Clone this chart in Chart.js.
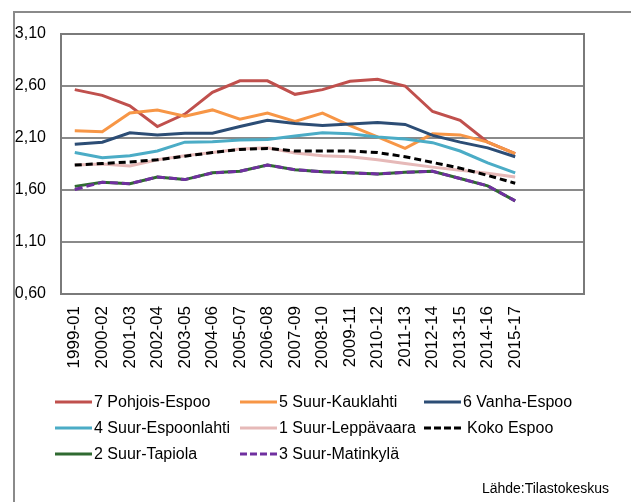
<!DOCTYPE html>
<html>
<head>
<meta charset="utf-8">
<script src="https://cdn.jsdelivr.net/npm/chart.js@4"></script>
<style>
  html, body { margin: 0; padding: 0; background: #fff; }
  #wrap { position: relative; width: 631px; height: 502px; }
  #source {
    position: absolute; right: 22px; top: 480px;
    font: 14px "Liberation Sans", Arial, sans-serif; color: #000;
  }
</style>
</head>
<body>
<div id="wrap">
  <canvas id="chart"></canvas>
  <div id="source">Lähde:Tilastokeskus</div>
</div>
<script>
// Periods on the x axis (two empty slots at the end, as in the original)
const periods = ['1999-01', '2000-02', '2001-03', '2002-04', '2003-05', '2004-06',
  '2005-07', '2006-08', '2007-09', '2008-10', '2009-11', '2010-12', '2011-13',
  '2012-14', '2013-15', '2014-16', '2015-17', '', ''];

// Y axis ticks
const yTicks = [0.60, 1.10, 1.60, 2.10, 2.60, 3.10];

// Series values
const pohjoisEspoo = [2.565, 2.51, 2.41, 2.21, 2.33, 2.54, 2.65, 2.65, 2.52, 2.565, 2.645, 2.665, 2.60, 2.355, 2.27, 2.06, 1.95];
const suurKauklahti = [2.17, 2.16, 2.34, 2.37, 2.31, 2.37, 2.28, 2.34, 2.26, 2.34, 2.22, 2.11, 2.00, 2.14, 2.13, 2.06, 1.95];
const vanhaEspoo = [2.04, 2.06, 2.15, 2.13, 2.145, 2.145, 2.21, 2.27, 2.24, 2.22, 2.235, 2.25, 2.23, 2.125, 2.06, 2.005, 1.92];
const suurEspoonlahti = [1.96, 1.91, 1.93, 1.975, 2.06, 2.065, 2.08, 2.085, 2.12, 2.15, 2.14, 2.11, 2.09, 2.055, 1.975, 1.86, 1.765];
const suurLeppavaara = [1.84, 1.85, 1.83, 1.89, 1.93, 1.96, 1.995, 2.005, 1.955, 1.93, 1.92, 1.89, 1.855, 1.82, 1.79, 1.76, 1.725];
const kokoEspoo = [1.84, 1.855, 1.87, 1.89, 1.925, 1.96, 1.99, 2.00, 1.975, 1.975, 1.975, 1.96, 1.92, 1.865, 1.81, 1.74, 1.665];
const suurTapiola = [1.635, 1.675, 1.66, 1.725, 1.70, 1.765, 1.78, 1.84, 1.795, 1.775, 1.765, 1.755, 1.77, 1.78, 1.71, 1.64, 1.495];
const suurMatinkyla = [1.605, 1.675, 1.66, 1.725, 1.70, 1.765, 1.78, 1.84, 1.795, 1.775, 1.765, 1.755, 1.77, 1.78, 1.71, 1.64, 1.495];

const seriesNames = ['7 Pohjois-Espoo', '5 Suur-Kauklahti', '6 Vanha-Espoo', '4 Suur-Espoonlahti',
  '1 Suur-Leppävaara', 'Koko Espoo', '2 Suur-Tapiola', '3 Suur-Matinkylä'];
const seriesData = [pohjoisEspoo, suurKauklahti, vanhaEspoo, suurEspoonlahti,
  suurLeppavaara, kokoEspoo, suurTapiola, suurMatinkyla];
const seriesColors = ['#C0504D', '#F79646', '#2C4D75', '#4BACC6', '#E6B9B8', '#000000', '#2F6A31', '#7030A0'];
const seriesDash = [[], [], [], [], [], [7, 4], [], [8, 4]];

const FONT = '"Liberation Sans", Arial, sans-serif';
const GRID = '#8a8a8a';

const datasets = seriesNames.map((name, i) => ({
  label: name,
  data: seriesData[i],
  borderColor: seriesColors[i],
  backgroundColor: seriesColors[i],
  borderWidth: 3,
  borderDash: seriesDash[i],
  pointRadius: 0,
  tension: 0,
  fill: false,
  // later series are painted on top, like in the original
  order: seriesNames.length - i,
}));

// Frame, plot border and 3-column legend drawn on the canvas
const decorPlugin = {
  id: 'decor',
  beforeDraw(chart) {
    const ctx = chart.ctx;
    ctx.save();
    ctx.strokeStyle = GRID;
    ctx.lineWidth = 2;
    ctx.beginPath();
    ctx.moveTo(14, chart.height);
    ctx.lineTo(14, 12);
    ctx.lineTo(chart.width, 12);
    ctx.stroke();
    ctx.restore();
  },
  afterDatasetsDraw(chart) {
    const { ctx, chartArea: a } = chart;
    ctx.save();
    ctx.strokeStyle = '#7a7a7a';
    ctx.lineWidth = 2;
    ctx.strokeRect(a.left, a.top, a.right - a.left, a.bottom - a.top);
    ctx.restore();
  },
  afterDraw(chart) {
    const ctx = chart.ctx;
    const colX = [55, 240, 424];
    const rowY = [402, 428, 454];
    ctx.save();
    ctx.font = '16px ' + FONT;
    ctx.textBaseline = 'middle';
    ctx.fillStyle = '#000';
    chart.data.datasets.forEach((ds, i) => {
      const x = colX[i % 3];
      const y = rowY[Math.floor(i / 3)];
      ctx.strokeStyle = ds.borderColor;
      ctx.lineWidth = 3;
      ctx.setLineDash(ds.borderDash.length ? [7, 3] : []);
      ctx.beginPath();
      ctx.moveTo(x, y);
      ctx.lineTo(x + 37, y);
      ctx.stroke();
      ctx.setLineDash([]);
      const gap = ds.borderDash.length && i === 5 ? 6 : 2;
      ctx.fillText(ds.label, x + 37 + gap, y + 1);
    });
    ctx.restore();
  },
};

new Chart(document.getElementById('chart'), {
  type: 'line',
  data: { labels: periods, datasets },
  options: {
    responsive: true,
    maintainAspectRatio: false,
    animation: false,
    layout: { padding: { top: 34, left: 0, right: 47, bottom: 108 } },
    plugins: {
      legend: { display: false },
      tooltip: { enabled: false },
    },
    scales: {
      x: {
        offset: true,
        grid: { display: false, drawTicks: false, offset: true },
        border: { display: false },
        ticks: {
          autoSkip: false,
          maxRotation: 90,
          minRotation: 90,
          padding: 12,
          color: '#000',
          font: { family: FONT, size: 17 },
        },
        afterFit(scale) { scale.height = 100; },
      },
      y: {
        min: 0.6,
        max: 3.1,
        afterBuildTicks(scale) { scale.ticks = yTicks.map(v => ({ value: v })); },
        grid: { color: GRID, lineWidth: 2, drawTicks: false },
        border: { display: false },
        ticks: {
          padding: 15,
          color: '#000',
          font: { family: FONT, size: 16 },
          callback: v => v.toFixed(2).replace('.', ','),
        },
        afterFit(scale) { scale.width = 61; },
      },
    },
  },
  plugins: [decorPlugin],
});
</script>
</body>
</html>
